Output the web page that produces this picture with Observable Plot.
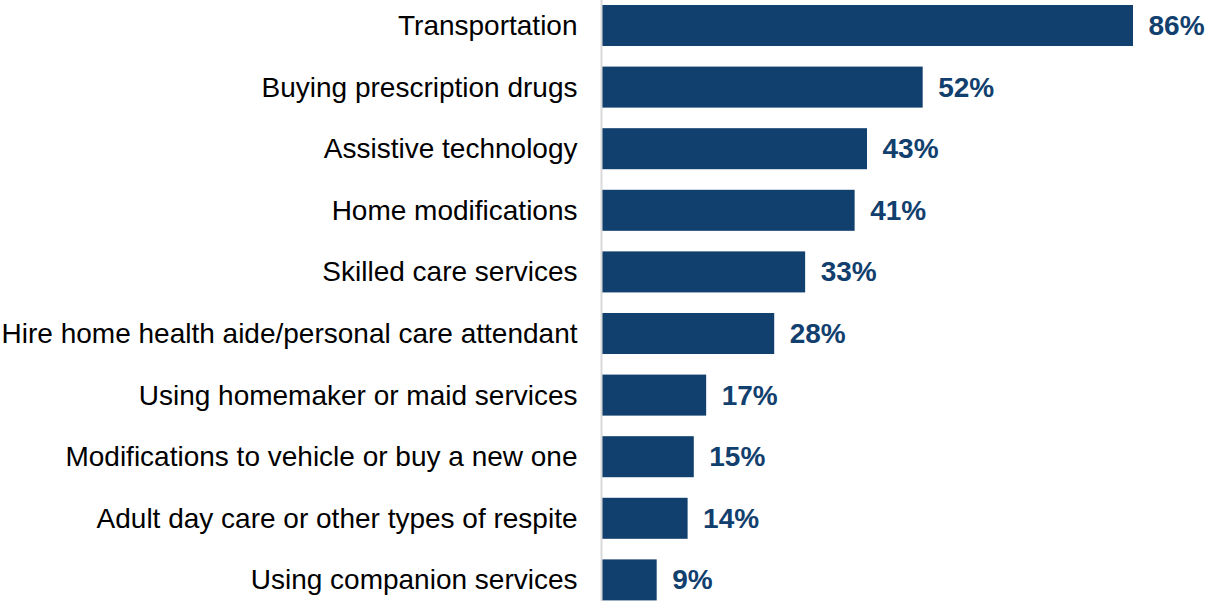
<!DOCTYPE html>
<html>
<head>
<meta charset="utf-8">
<script src="https://cdn.jsdelivr.net/npm/d3@7"></script>
<script src="https://cdn.jsdelivr.net/npm/@observablehq/plot@0.6"></script>
<style>
  html, body { margin: 0; padding: 0; background: #fff; }
  #chart svg { display: block; }
</style>
</head>
<body>
<div id="chart"></div>
<script>
const categories = [
  "Transportation",
  "Buying prescription drugs",
  "Assistive technology",
  "Home modifications",
  "Skilled care services",
  "Hire home health aide/personal care attendant",
  "Using homemaker or maid services",
  "Modifications to vehicle or buy a new one",
  "Adult day care or other types of respite",
  "Using companion services"
];
const values = [86, 52, 43, 41, 33, 28, 17, 15, 14, 9];

const data = categories.map((c, i) => ({category: c, value: values[i]}));
const barColor = "#12406e";

const chart = Plot.plot({
  width: 1207,
  height: 601,
  marginLeft: 601,
  marginRight: 74,
  marginTop: 0,
  marginBottom: 0,
  style: {fontFamily: "Liberation Sans, Arial, sans-serif", background: "#fff"},
  x: {domain: [0, 86], axis: null},
  y: {domain: categories, range: [0, 605.4], padding: 0.334, paddingOuter: 0.081, round: false, label: null},
  marks: [
    Plot.barX(data, {x: "value", y: "category", fill: barColor, insetLeft: 1}),
    Plot.ruleX([0], {stroke: "#d9d9d9", strokeWidth: 2}),
    Plot.text(data, {x: "value", y: "category", text: d => d.value + "%", textAnchor: "start", dx: 15, fill: barColor, fontWeight: "bold", fontSize: 28}),
    Plot.axisY({tickSize: 0, tickPadding: 24, fontSize: 28, label: null, color: "#000"})
  ]
});
document.getElementById("chart").appendChild(chart);
</script>
</body>
</html>
